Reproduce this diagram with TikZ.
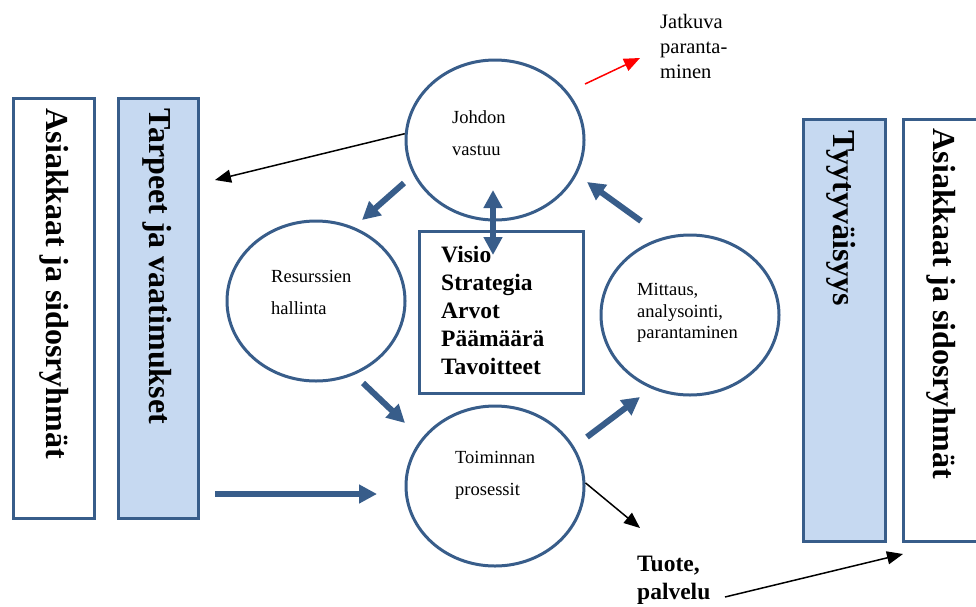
\documentclass[tikz,border=0pt]{standalone}
\usepackage{fontspec}
\setmainfont{Liberation Serif}
\usetikzlibrary{shapes.geometric, arrows.meta}
\definecolor{qblue}{RGB}{56,93,138}
\definecolor{qfill}{RGB}{198,217,241}

\begin{document}
\begin{tikzpicture}[x=1pt, y=-1pt,
  panel/.style={draw=qblue, line width=3pt, rectangle, inner sep=0pt},
  ring/.style={draw=qblue, line width=3pt, ellipse, inner sep=0pt,
    minimum width=178pt, minimum height=160pt},
  vtext/.style={rotate=-90, anchor=west, inner sep=0pt,
    font=\fontsize{32}{36}\selectfont\bfseries},
  small/.style={anchor=west, align=left, inner sep=0pt,
    font=\fontsize{18.5}{32}\selectfont},
  big/.style={anchor=west, align=left, inner sep=0pt,
    font=\fontsize{23.5}{28}\selectfont\bfseries},
  fat/.style={draw=qblue, line width=6pt, -{Triangle[length=18pt, width=18pt]}},
  pointer/.style={line width=1.5pt, -{Triangle[length=16pt, width=13pt]}}]
  \useasboundingbox (0,0) rectangle (976,606);
  \clip (0,0) rectangle (976,606);
  \fill[white] (0,0) rectangle (976,606);

  % pylvaat reunoilla
  \node[panel, minimum width=81pt, minimum height=420pt] (asL) at (54,308.5) {};
  \node[panel, fill=qfill, minimum width=80pt, minimum height=420pt] (tv) at (158.5,308.5) {};
  \node[panel, fill=qfill, minimum width=82pt, minimum height=422pt] (ty) at (844.5,330.5) {};
  \node[panel, minimum width=82pt, minimum height=422pt] (asR) at (944.5,330.5) {};

  \node[vtext] at ([yshift=-11.5pt]asL.north) {Asiakkaat ja sidosryhmät};
  \node[vtext] at ([xshift=-1.5pt, yshift=-11.5pt]tv.north) {Tarpeet ja vaatimukset};
  \node[vtext] at ([xshift=-3pt, yshift=-12.5pt]ty.north) {Tyytyväisyys};
  \node[vtext] at ([xshift=-3pt, yshift=-10.5pt]asR.north) {Asiakkaat ja sidosryhmät};

  % prosessikierto
  \node[ring] (jv) at (495,140) {};
  \node[ring] (rh) at (316,301) {};
  \node[ring] (tp) at (495,486) {};
  \node[ring] (ma) at (690,315) {};
  \node[panel, minimum width=164pt, minimum height=162pt] (vs) at (501.5,312.5) {};

  \node[small] (jvt) at (452,133) {Johdon\\vastuu};
  \node[small] (rht) at (271,292) {Resurssien\\hallinta};
  \node[small] (tpt) at (455,475) {Toiminnan\\prosessit};
  \node[small, font=\fontsize{18.5}{21.5}\selectfont] (mat) at (637,313) {Mittaus,\\analysointi,\\parantaminen};
  \node[big] (vst) at (441,310) {Visio\\Strategia\\Arvot\\Päämäärä\\Tavoitteet};
  \node[big] (tuote) at (637,580) {Tuote,\\palvelu};
  \node[small, font=\fontsize{20.5}{25}\selectfont] (jp) at (660,46) {Jatkuva\\paranta-\\minen};

  % nuolten paat
  \coordinate (jvOut) at (404,183);
  \coordinate (rhIn) at (362,220);
  \coordinate (rhOut) at (363,383);
  \coordinate (tpIn) at (405,423);
  \coordinate (tpOut) at (587,437);
  \coordinate (maIn) at (640,397);
  \coordinate (maOut) at (641,221);
  \coordinate (jvIn) at (587,182);
  \coordinate (tvOut) at (215,494);
  \coordinate (tpLeft) at (377,494);
  \coordinate (jvDown) at (493,190);
  \coordinate (vsUp) at (493,255);
  \coordinate (tvTip) at (215,180);
  \coordinate (tuoteTip) at (640,528);
  \coordinate (tuoteOut) at (725,597);
  \coordinate (asTip) at (903,554);
  \coordinate (jpStart) at (585,84);
  \coordinate (jpTip) at (640,58);

  \draw[fat] (jvOut) -- (rhIn);
  \draw[fat] (rhOut) -- (tpIn);
  \draw[fat] (tpOut) -- (maIn);
  \draw[fat] (maOut) -- (jvIn);
  \draw[fat] (tvOut) -- (tpLeft);
  \draw[fat, {Triangle[length=18pt, width=18pt]}-{Triangle[length=18pt, width=18pt]}] (jvDown) -- (vsUp);

  \draw[pointer] (jv.176) -- (tvTip);
  \draw[pointer] (tp.2) -- (tuoteTip);
  \draw[pointer] (tuoteOut) -- (asTip);
  \draw[pointer, red] (jpStart) -- (jpTip);
\end{tikzpicture}
\end{document}
